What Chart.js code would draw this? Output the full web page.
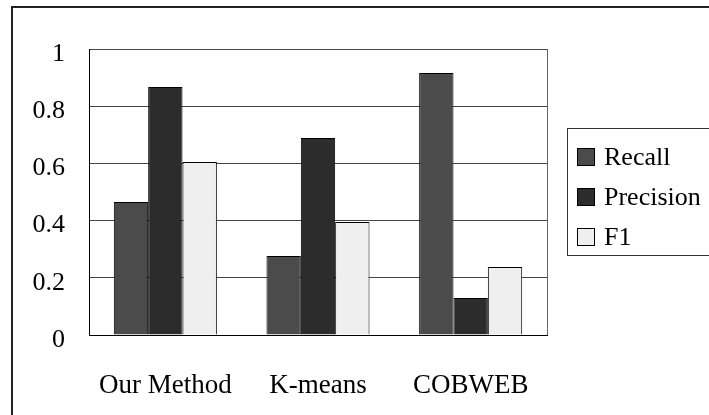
<!DOCTYPE html>
<html>
<head>
<meta charset="utf-8">
<script src="https://cdn.jsdelivr.net/npm/chart.js@4"></script>
<style>
  html, body { margin: 0; padding: 0; background: #fff; }
  #wrap { width: 709px; height: 415px; position: relative; }
</style>
</head>
<body>
<div id="wrap"><canvas id="chart" width="709" height="415"></canvas></div>
<script>
const categories = ["Our Method", "K-means", "COBWEB"];
const seriesNames = ["Recall", "Precision", "F1"];
const recall = [0.465, 0.276, 0.916];
const precision = [0.867, 0.689, 0.129];
const f1 = [0.605, 0.395, 0.238];
const yTicks = [0, 0.2, 0.4, 0.6, 0.8, 1];

const fills = ["#4b4b4b", "#2c2c2c", "#efefef"];
const FONT = "'Liberation Serif', 'Times New Roman', serif";

// frame, plot border and legend box, drawn around the library's chart
const decorations = {
    id: "decorations",
    beforeDraw(chart) {
        const ctx = chart.ctx;
        ctx.save();
        ctx.fillStyle = "#fff";
        ctx.fillRect(0, 0, chart.width, chart.height);
        ctx.strokeStyle = "#222";
        ctx.lineWidth = 2;
        ctx.beginPath();
        ctx.moveTo(12, chart.height + 2);
        ctx.lineTo(12, 7);
        ctx.lineTo(chart.width + 2, 7);
        ctx.stroke();
        ctx.restore();
    },
    beforeDatasetsDraw(chart) {
        const a = chart.chartArea, ctx = chart.ctx;
        ctx.save();
        ctx.strokeStyle = "#666";
        ctx.lineWidth = 1;
        ctx.beginPath();
        ctx.moveTo(Math.round(a.right) + 0.5, a.top);
        ctx.lineTo(Math.round(a.right) + 0.5, a.bottom);
        ctx.stroke();
        ctx.restore();
    },
    afterDraw(chart) {
        const ctx = chart.ctx;
        ctx.save();
        ctx.strokeStyle = "#333";
        ctx.lineWidth = 1;
        ctx.strokeRect(567.5, 128.5, 160, 127);
        ctx.font = "26px " + FONT;
        ctx.textBaseline = "middle";
        const ys = [157, 197, 237];
        chart.data.datasets.forEach(function (ds, i) {
            ctx.fillStyle = ds.backgroundColor;
            ctx.fillRect(577, ys[i] - 9, 18, 18);
            ctx.strokeStyle = "#000";
            ctx.strokeRect(577.5, ys[i] - 8.5, 17, 17);
            ctx.fillStyle = "#000";
            ctx.fillText(ds.label, 604, ys[i] + 1);
        });
        ctx.restore();
    }
};

new Chart(document.getElementById("chart"), {
    type: "bar",
    data: {
        labels: categories,
        datasets: [recall, precision, f1].map(function (vals, i) {
            return {
                label: seriesNames[i],
                data: vals,
                backgroundColor: fills[i],
                borderColor: "#000",
                borderWidth: 1,
                categoryPercentage: 0.675,
                barPercentage: 1
            };
        })
    },
    options: {
        responsive: false,
        animation: false,
        layout: { padding: { left: 0, right: 162, top: 49, bottom: 0 } },
        plugins: { legend: { display: false }, tooltip: { enabled: false } },
        scales: {
            x: {
                grid: { display: false },
                border: { color: "#000", width: 1 },
                ticks: { color: "#000", padding: 27, font: { family: FONT, size: 27 } },
                afterFit: function (s) { s.height = 80; }
            },
            y: {
                min: 0, max: 1,
                afterBuildTicks: function (s) { s.ticks = yTicks.map(function (v) { return { value: v }; }); },
                grid: { color: "#444", drawTicks: false },
                border: { color: "#000", width: 1 },
                ticks: {
                    color: "#000", padding: 24, labelOffset: 5,
                    font: { family: FONT, size: 26 },
                    callback: function (v) { return String(Math.round(v * 10) / 10); }
                },
                afterFit: function (s) { s.width = 89; }
            }
        }
    },
    plugins: [decorations]
});
</script>
</body>
</html>
